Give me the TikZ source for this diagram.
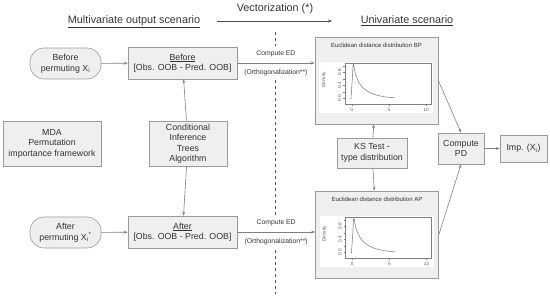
\documentclass[tikz,border=0pt]{standalone}
\usepackage{fontspec}
\setmainfont{Liberation Sans}
\usepackage{tikz}
\usetikzlibrary{arrows.meta, calc}
\definecolor{boxc}{HTML}{EFEFEF}
\definecolor{edgec}{HTML}{9A9A9A}
\definecolor{inkc}{HTML}{333333}
\definecolor{linec}{HTML}{808080}
\newcommand{\boxfont}{\fontsize{8.8}{10.5}\selectfont}
\newcommand{\tinyfont}{\fontsize{4.6}{5}\selectfont}
\newcommand{\distbox}[3]{%
  \node[plotbox] (#1) at #2 {};
  \begin{scope}[shift={#2}]
    \node[font=\fontsize{6}{7}\selectfont, text=inkc] (#1-title) at (0,-35.5) {#3};
    \fill[white] (-57.5,-18.5) rectangle (56.5,32.5);
    \begin{scope}[shift={(-24.8,18)}, x=7.43pt, y=32.5pt,
                  black!50, line width=0.35pt, font=\tinyfont]
      \draw (-0.9,-0.17) rectangle (10.67,1.09);
      \foreach \d in {0,0.2,...,1.0} \draw (-0.9,\d) -- ++(-2pt,0);
      \foreach \d/\t in {0/0.0, 0.4/0.4, 0.8/0.8}
        \node[rotate=90, text=black!65] (#1-y\t) at (-1.65,\d) {\t};
      \foreach \x in {0,5,10} {
        \draw (\x,-0.17) -- ++(0,-2pt);
        \node[text=black!65] (#1-x\x) at (\x,-0.36) {\x};
      }
      \node[rotate=90, text=black!65] (#1-dens) at (-3.73,0.57) {Density};
      \draw[black!50, line width=0.55pt] plot[smooth, tension=0.5] coordinates
        {(-0.1,-0.02) (0.08,0.6) (0.22,1.06) (0.5,0.76) (1,0.48) (1.5,0.33)
         (2,0.24) (3,0.13) (4,0.07) (5,0.035) (5.8,0.02)};
    \end{scope}
  \end{scope}
}

\begin{document}
\begin{tikzpicture}[x=1pt, y=-1pt, >={Stealth[length=4pt, width=3pt]},
    line width=0.6pt,
    box/.style={draw=edgec, fill=boxc, text=inkc, align=center,
                inner sep=0pt, font=\boxfont},
    pill/.style={box, rounded corners=14pt},
    plotbox/.style={draw=edgec, fill=boxc, line width=0.8pt,
                    minimum width=123pt, minimum height=87pt},
    con/.style={->, linec},
    edlabel/.style={font=\fontsize{6.8}{8}\selectfont, text=inkc},
    headline/.style={font=\fontsize{10.8}{12}\selectfont, text=inkc},
    dashline/.style={dash pattern=on 3pt off 3pt, black!65, line width=0.8pt}]
  \useasboundingbox (0,0) rectangle (550,296);
  \node[headline] (multi) at (134,22) {\underline{Multivariate output scenario}};
  \node[headline] (uni) at (407,21) {\underline{Univariate scenario}};
  \node[headline] (vec) at (275,9) {Vectorization (*)};
  \coordinate (vs) at (217,21);
  \coordinate (ve) at (332,21);
  \draw[->, black!70] (vs) -- (ve);

  \node[pill, minimum width=71pt, minimum height=31pt] (bperm) at (65.5,63.5)
    {Before\\permuting X\textsubscript{i}};
  \node[box, minimum width=109pt, minimum height=32pt] (bobs) at (182.5,63)
    {\underline{Before}\\{[Obs. OOB - Pred. OOB]}};
  \node[box, minimum width=98pt, minimum height=45pt] (mda) at (52,143.5)
    {MDA\\Permutation\\importance framework};
  \node[box, minimum width=78pt, minimum height=45pt] (cit) at (188,143.5)
    {Conditional\\Inference\\Trees\\Algorithm};
  \node[pill, minimum width=71pt, minimum height=31pt] (aperm) at (65.5,232.5)
    {After\\permuting X\textsubscript{i}\textsuperscript{*}};
  \node[box, minimum width=109pt, minimum height=32pt] (aobs) at (182.5,232)
    {\underline{After}\\{[Obs. OOB - Pred. OOB]}};

  \distbox{bp}{(376.5,80.5)}{Euclidean distance distribution BP}
  \distbox{ap}{(377,234.5)}{Euclidean distance distribution AP}

  \node[box, minimum width=70pt, minimum height=30pt] (ks) at (372,153)
    {KS Test -\\type distribution};
  \node[box, minimum width=46pt, minimum height=31pt] (cpd) at (461,148.5)
    {Compute\\PD};
  \node[box, minimum width=47pt, minimum height=27pt] (imp) at (523.5,148.5)
    {Imp. (X\textsubscript{i})};

  \coordinate (d0) at (275,32);
  \coordinate (d1) at (275,46);
  \coordinate (d2) at (275,80);
  \coordinate (d3) at (275,215);
  \coordinate (d4) at (275,250);
  \coordinate (d5) at (275,294);
  \draw[dashline] (d0) -- (d1) (d2) -- (d3) (d4) -- (d5);

  \draw[con] (bperm) -- (bobs);
  \draw[con] (aperm) -- (aobs);
  \draw[con] (cit) -- (bobs);
  \draw[con] (cit) -- (aobs);
  \draw[con] (bobs.east) --
    node[edlabel, above=2pt] (bced) {Compute ED}
    node[edlabel, below=3pt] (borth) {(Orthogonalization**)}
    (bobs.east -| bp.west);
  \draw[con] (aobs.east) --
    node[edlabel, above=2pt] (aced) {Compute ED}
    node[edlabel, below=3pt] (aorth) {(Orthogonalization**)}
    (aobs.east -| ap.west);
  \draw[con] (ks) -- (bp);
  \draw[con] (ks) -- (ap);
  \draw[con] (bp.east) -- (cpd.north);
  \draw[con] (ap.east) -- (cpd.south);
  \draw[con] (cpd) -- (imp);
\end{tikzpicture}
\end{document}
